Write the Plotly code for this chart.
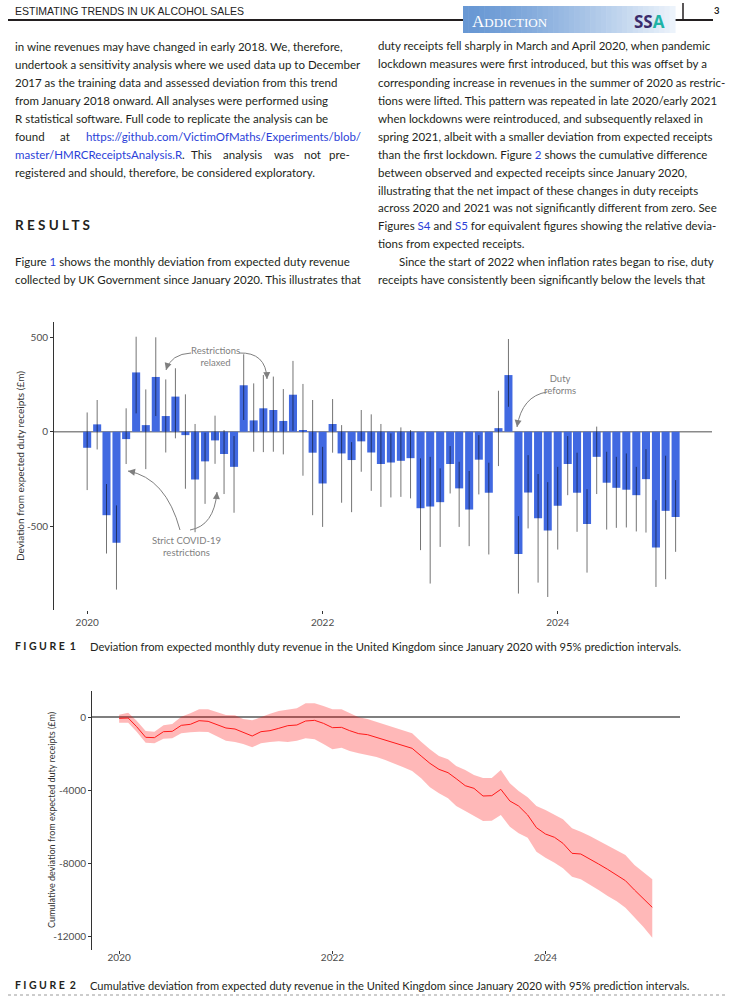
import pandas as pd
import plotly.graph_objects as go

W, H = 733, 996

# monthly deviation from expected duty receipts (£m), Jan 2020 - Jan 2025
months = pd.date_range("2020-01-01", periods=61, freq="MS")

deviation = [-85, 39, -442, -588, -39, 314, 35, 290, 83, 186, -18, -253,
             -157, -46, -118, -186, 246, 60, 124, 115, 57, 196, 9, -111,
             -274, 41, -115, -150, -51, -110, -171, -163, -154, -140, -405, -396,
             -373, -171, -300, -412, -148, -323, 19, 300, -648, -322, -458, -523,
             -392, -171, -323, -489, -133, -270, -297, -307, -336, -251, -613, -419,
             -451]
dev_hi = [102, 168, -277, -390, 124, 503, 224, 500, 277, 336, 198, 41,
          -5, 85, 9, -23, 410, 256, 300, 292, 226, 375, 253, 168,
          -80, 173, 35, -55, 115, 92, 41, -9, 23, 9, -141, -133,
          -194, -76, -159, -208, -18, -164, 217, 491, -447, -124, -224, -267,
          -186, -23, -111, -304, 27, -106, -133, -115, -186, -92, -362, -127,
          -256]
dev_lo = [-309, -94, -645, -836, -171, 97, -198, 83, -110, -35, -302, -532,
          -382, -170, -330, -429, 62, -106, -108, -106, -120, 5, -233, -442,
          -504, -111, -376, -426, -212, -313, -398, -348, -345, -353, -627, -804,
          -610, -327, -504, -606, -332, -650, -182, 132, -857, -512, -799, -875,
          -624, -336, -530, -746, -330, -518, -509, -507, -528, -534, -822, -781,
          -636]

# cumulative deviation (£m) with 95% band
cum_dev = [-73, -55, -530, -1114, -1132, -804, -785, -457, -402, -200, -237, -438,
           -603, -657, -822, -1041, -804, -749, -621, -475, -438, -219, -183, -347,
           -584, -566, -749, -913, -968, -1114, -1260, -1406, -1553, -1717, -2137, -2539,
           -2868, -3050, -3379, -3763, -3909, -4329, -4311, -3963, -4603, -4877, -5370, -6064,
           -6411, -6594, -6922, -7470, -7507, -7763, -8055, -8347, -8658, -8968, -9479, -9973,
           -10429]
cum_hi = [128, 237, -200, -767, -804, -457, -384, 18, 201, 420, 420, 256,
          110, 91, -110, -183, 18, 183, 329, 402, 475, 749, 749, 603,
          420, 420, 201, -18, -110, -274, -402, -584, -749, -895, -1352, -1772,
          -2137, -2320, -2685, -2904, -3178, -3342, -3342, -2904, -3635, -4055, -4402, -4877,
          -5096, -5370, -5607, -6100, -6283, -6521, -6776, -7068, -7324, -7562, -8110, -8511,
          -8895]
cum_lo = [-310, -310, -804, -1406, -1443, -1187, -1169, -895, -840, -804, -822, -1078,
          -1297, -1370, -1479, -1662, -1443, -1370, -1333, -1370, -1297, -1169, -1224, -1479,
          -1772, -1680, -1863, -1991, -2100, -2192, -2356, -2539, -2758, -2959, -3361, -3854,
          -4183, -4457, -4877, -5151, -5425, -5699, -5680, -5370, -6009, -6374, -6612, -7379,
          -7708, -7982, -8292, -8749, -8895, -9169, -9479, -9808, -10100, -10447, -10977, -11489,
          -12091]

year_ticks = ["2020-01-01", "2022-01-01", "2024-01-01"]
year_labels = ["2020", "2022", "2024"]
dev_ticks = [-500, 0, 500]
dev_labels = ["-500", "0", "500"]
cum_ticks = [0, -4000, -8000, -12000]
cum_labels = ["0", "-4000", "-8000", "-12000"]

TEXT = "#231f20"
LINK = "#2b3fd8"
GREY = "#4d4d4d"
FONT = "Lato"


def px(x):
    return x / W


def py(y):
    return 1 - y / H


annotations = []
shapes = []


def add_text(x, y, text, size=11.5, color=TEXT, anchor="left", family=FONT, **kw):
    annotations.append(dict(x=px(x), y=py(y), xref="paper", yref="paper", text=text,
                            showarrow=False, xanchor=anchor, yanchor="middle",
                            font=dict(size=size, color=color, family=family), **kw))


def blue(s):
    return f"<span style='color:{LINK}'>{s}</span>"


fig = go.Figure()

# Figure 1: bars with prediction intervals
fig.add_trace(go.Bar(
    x=months, y=deviation, xaxis="x", yaxis="y",
    width=25 * 24 * 3600 * 1000,
    marker=dict(color="#4169e1", line=dict(width=0)),
    error_y=dict(type="data", symmetric=False,
                 array=[h - v for h, v in zip(dev_hi, deviation)],
                 arrayminus=[v - l for v, l in zip(deviation, dev_lo)],
                 color="rgba(0,0,0,0.55)", thickness=1, width=0),
    showlegend=False, hoverinfo="skip"))

# Figure 2: cumulative deviation ribbon + line
fig.add_trace(go.Scatter(x=months, y=cum_hi, xaxis="x2", yaxis="y2", mode="lines",
                         line=dict(width=0), showlegend=False, hoverinfo="skip"))
fig.add_trace(go.Scatter(x=months, y=cum_lo, xaxis="x2", yaxis="y2", mode="lines",
                         line=dict(width=0), fill="tonexty",
                         fillcolor="rgba(255,0,0,0.28)", showlegend=False, hoverinfo="skip"))
fig.add_trace(go.Scatter(x=months, y=cum_dev, xaxis="x2", yaxis="y2", mode="lines",
                         line=dict(color="#ff1a1a", width=1), showlegend=False))

# zero lines
shapes.append(dict(type="line", xref="x domain", yref="y", x0=0, x1=1, y0=0, y1=0,
                   line=dict(color="#8a8a8a", width=1.5), layer="below"))
shapes.append(dict(type="line", xref="x2 domain", yref="y2", x0=0, x1=1, y0=0, y1=0,
                   line=dict(color="#555555", width=1.3), layer="below"))

axis_common = dict(showgrid=False, zeroline=False, ticks="outside", ticklen=3,
                   tickcolor="#333333", tickfont=dict(family=FONT, size=10, color=GREY))

# --- page header ---
add_text(13, 11, "ESTIMATING TRENDS IN UK ALCOHOL SALES", size=10.5, color="#222222",
         family="Liberation Sans Narrow, Liberation Sans, sans-serif")
shapes.append(dict(type="line", xref="paper", yref="paper", x0=px(8), x1=px(464),
                   y0=py(20), y1=py(20), line=dict(color="#231f20", width=2)))
shapes.append(dict(type="line", xref="paper", yref="paper", x0=px(675), x1=px(713),
                   y0=py(20), y1=py(20), line=dict(color="#231f20", width=2)))
shapes.append(dict(type="line", xref="paper", yref="paper", x0=px(683), x1=px(683),
                   y0=py(3), y1=py(20), line=dict(color="#231f20", width=1.5)))
# banner gradient
n_steps = 40
c0, c1 = (104, 152, 212), (236, 243, 251)
for i in range(n_steps):
    t = i / (n_steps - 1)
    col = tuple(int(c0[k] + (c1[k] - c0[k]) * t ** 1.3) for k in range(3))
    xa = 463 + (675 - 463) * i / n_steps
    xb = 463 + (675 - 463) * (i + 1) / n_steps + 0.6
    shapes.append(dict(type="rect", xref="paper", yref="paper", x0=px(xa), x1=px(xb),
                       y0=py(33), y1=py(6), line=dict(width=0),
                       fillcolor="rgb(%d,%d,%d)" % col, layer="above"))
add_text(470, 21, "<span style='font-size:17px'>A</span>DDICTION", size=13, color="white",
         family="Liberation Serif, DejaVu Serif, serif")
add_text(632, 21, "<b>SS<span style='color:#1db3a6'>A</span></b>", size=17, color="#3a2c6c",
         family="Open Sans, sans-serif")
add_text(717, 10, "<b>3</b>", size=9.5, color="#222222", anchor="center")

# --- left column text ---
left_lines = [
    (46, "in wine revenues may have changed in early 2018. We, therefore,"),
    (64, "undertook a sensitivity analysis where we used data up to December"),
    (82, "2017 as the training data and assessed deviation from this trend"),
    (100, "from January 2018 onward. All analyses were performed using"),
    (118, "R statistical software. Full code to replicate the analysis can be"),
    (172, "registered and should, therefore, be considered exploratory."),
    (262, "Figure " + blue("1") + " shows the monthly deviation from expected duty revenue"),
    (280, "collected by UK Government since January 2020. This illustrates that"),
]
for y, s in left_lines:
    add_text(13, y, s)
add_text(13, 136, "found")
add_text(58, 136, "at")
add_text(84, 136, blue("https://github.com/VictimOfMaths/Experiments/blob/"))
add_text(13, 154, blue("master/HMRCReceiptsAnalysis.R") + ".")
for x, w in [(189, "This"), (221, "analysis"), (272, "was"), (302, "not")]:
    add_text(x, 154, w)
add_text(352, 154, "pre-", anchor="right")
add_text(13, 225, "<b>R E S U L T S</b>", size=13.5)

# --- right column text ---
right_lines = [
    (45, "duty receipts fell sharply in March and April 2020, when pandemic"),
    (63, "lockdown measures were first introduced, but this was offset by a"),
    (82, "corresponding increase in revenues in the summer of 2020 as restric-"),
    (100, "tions were lifted. This pattern was repeated in late 2020/early 2021"),
    (118, "when lockdowns were reintroduced, and subsequently relaxed in"),
    (136, "spring 2021, albeit with a smaller deviation from expected receipts"),
    (154, "than the first lockdown. Figure " + blue("2") + " shows the cumulative difference"),
    (172, "between observed and expected receipts since January 2020,"),
    (190, "illustrating that the net impact of these changes in duty receipts"),
    (208, "across 2020 and 2021 was not significantly different from zero. See"),
    (226, "Figures " + blue("S4") + " and " + blue("S5") + " for equivalent figures showing the relative devia-"),
    (244, "tions from expected receipts."),
    (280, "receipts have consistently been significantly below the levels that"),
]
for y, s in right_lines:
    add_text(376, y, s)
add_text(397, 262, "Since the start of 2022 when inflation rates began to rise, duty")

# --- figure 1 annotations ---
add_text(20, 466, "Deviation from expected duty receipts (£m)", size=10, color="#333333",
         anchor="center", textangle=-90)
ANN = "#7f7f7f"
add_text(216, 356, "Restrictions<br>relaxed", size=9.5, color=ANN, anchor="center")
add_text(186, 546, "Strict COVID-19<br>restrictions", size=9.5, color=ANN, anchor="center")
add_text(560, 385, "Duty<br>reforms", size=9.5, color=ANN, anchor="center")

curves = [
    # start, control, tip
    ((191, 353), (171, 354), (166, 370)),
    ((239, 353), (266, 352), (267, 379)),
    ((180, 530), (166, 478), (128, 471)),
    ((190, 530), (214, 526), (217, 492)),
    ((547, 392), (522, 396), (517, 427)),
]
for (x0, y0), (cx, cy), (x1, y1) in curves:
    shapes.append(dict(type="path", xref="paper", yref="paper",
                       path=f"M {px(x0)},{py(y0)} Q {px(cx)},{py(cy)} {px(x1)},{py(y1)}",
                       line=dict(color=ANN, width=1)))
    dx, dy = cx - x1, cy - y1
    norm = (dx ** 2 + dy ** 2) ** 0.5
    annotations.append(dict(x=px(x1), y=py(y1), xref="paper", yref="paper", text="",
                            showarrow=True, arrowhead=2, arrowsize=1.4, arrowwidth=1,
                            arrowcolor=ANN, ax=dx / norm * 7, ay=dy / norm * 7, standoff=0))

add_text(13, 646, "<b>F I G U R E  1</b>", size=10.5)
add_text(88, 646, "Deviation from expected monthly duty revenue in the United Kingdom since January 2020 with 95% prediction intervals.",
         size=11.2)

# --- figure 2 annotations ---
add_text(51, 820, "Cumulative deviation from expected duty receipts (£m)", size=9, color="#333333",
         anchor="center", textangle=-90)
add_text(13, 985, "<b>F I G U R E  2</b>", size=10.5)
add_text(88, 985, "Cumulative deviation from expected duty revenue in the United Kingdom since January 2020 with 95% prediction intervals.",
         size=11.1)
# page foot rule
shapes.append(dict(type="line", xref="paper", yref="paper", x0=px(8), x1=px(725),
                   y0=py(995), y1=py(995), line=dict(color="#9a9a9a", width=1, dash="3px,3px")))

fig.update_layout(
    width=W, height=H,
    margin=dict(l=0, r=0, t=0, b=0),
    paper_bgcolor="white", plot_bgcolor="white",
    font=dict(family=FONT),
    xaxis=dict(domain=[px(54), px(712)], anchor="y", type="date",
               range=["2019-09-20", "2025-04-24"], tickvals=year_ticks, ticktext=year_labels,
               showline=False, **axis_common),
    yaxis=dict(domain=[py(610), py(322)], anchor="x", range=[-944, 581],
               tickvals=dev_ticks, ticktext=dev_labels, showline=True,
               linecolor="#333333", linewidth=1, **axis_common),
    xaxis2=dict(domain=[px(92), px(680)], anchor="y2", type="date",
                range=["2019-09-30", "2025-04-06"], tickvals=year_ticks, ticktext=year_labels,
                showline=False, ticklabelstandoff=-5, **axis_common),
    yaxis2=dict(domain=[py(950), py(691)], anchor="x2", range=[-12767, 1425],
                tickvals=cum_ticks, ticktext=cum_labels, showline=True,
                linecolor="#333333", linewidth=1, **axis_common),
    annotations=annotations,
    shapes=shapes,
)

fig.write_html("out.html", config={"displayModeBar": False},
               post_script="document.body.style.margin='0';")
